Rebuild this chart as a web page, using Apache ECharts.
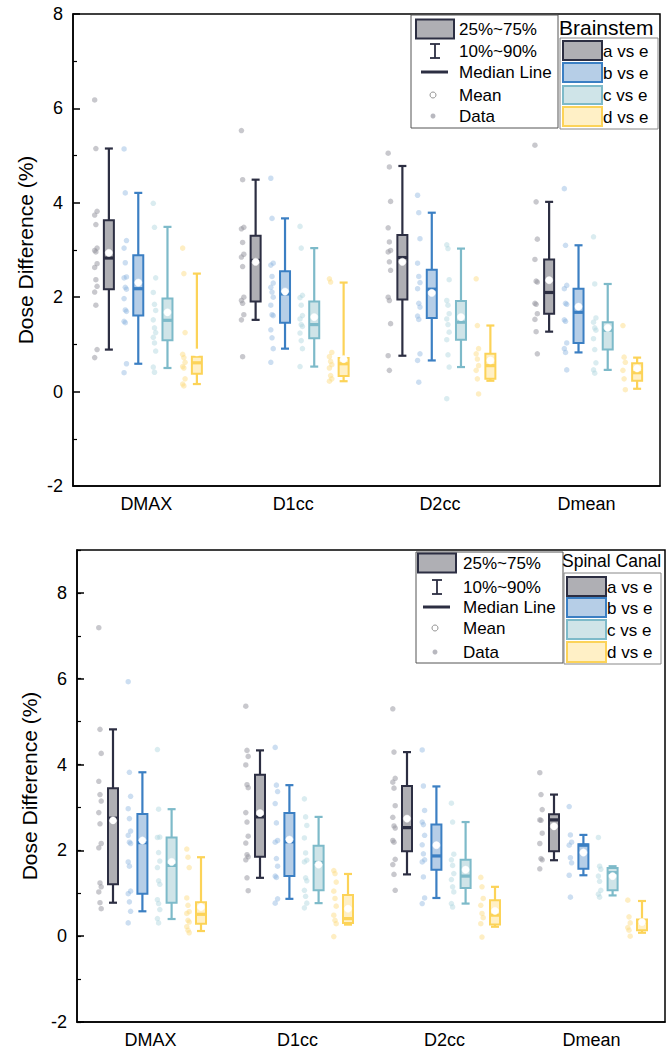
<!DOCTYPE html>
<html>
<head>
<meta charset="utf-8">
<script src="https://cdn.jsdelivr.net/npm/echarts@6/dist/echarts.min.js"></script>
<style>html,body{margin:0;padding:0;background:#fff}#c{width:672px;height:1052px}</style>
</head>
<body>
<div id="c"></div>
<script>
// ---------- data ----------
const categories = ['DMAX', 'D1cc', 'D2cc', 'Dmean'];
const groups = ['a vs e', 'b vs e', 'c vs e', 'd vs e'];
const panelTitles = ['Brainstem', 'Spinal Canal'];
const legendLabels = ['25%~75%', '10%~90%', 'Median Line', 'Mean', 'Data'];
const axisTitle = 'Dose Difference (%)';

// box statistics per category: [p10, p25, median, p75, p90, mean]
const bsBoxA = [[0.89,2.17,2.83,3.63,5.15,2.94],[1.52,1.91,2.78,3.30,4.49,2.75],[0.76,1.95,2.84,3.32,4.78,2.75],[1.27,1.65,2.10,2.80,4.02,2.36]];
const bsBoxB = [[0.59,1.61,2.18,2.89,4.21,2.31],[0.91,1.46,2.07,2.55,3.67,2.12],[0.66,1.56,2.17,2.58,3.79,2.09],[0.83,1.03,1.68,2.18,3.10,1.80]];
const bsBoxC = [[0.50,1.09,1.51,1.97,3.49,1.68],[0.53,1.13,1.42,1.91,3.04,1.58],[0.52,1.10,1.47,1.92,3.03,1.58],[0.46,0.89,1.30,1.47,2.28,1.35]];
const bsBoxD = [[0.16,0.38,0.61,0.74,2.50,0.83],[0.22,0.33,0.59,0.71,2.31,0.69],[0.23,0.27,0.55,0.80,1.40,0.66],[0.06,0.23,0.40,0.60,0.72,0.49]];

const bsPtsA = [[6.18,5.15,3.82,3.74,3.54,3.04,2.99,2.96,2.71,2.63,2.37,2.23,2.11,1.83,0.89,0.72],
                [5.53,4.49,3.48,3.45,3.16,2.91,2.85,2.65,2.00,1.93,1.87,1.63,1.52,0.74],
                [5.05,4.76,4.03,3.47,3.17,2.99,2.96,2.75,2.57,2.00,1.93,1.44,0.76,0.45],
                [5.22,4.02,3.23,2.80,2.34,2.32,1.87,1.85,1.65,1.53,1.27,0.80]];
const bsPtsB = [[5.14,4.21,3.20,3.04,2.73,2.43,2.41,2.21,2.17,1.97,1.73,1.70,1.49,1.46,0.59,0.40],
                [4.52,3.67,2.72,2.68,2.44,2.30,2.21,2.11,2.00,1.83,1.63,1.61,1.31,1.14,0.91,0.62],
                [4.16,3.79,3.24,2.72,2.44,2.31,2.18,1.87,1.79,1.60,1.53,0.80,0.66,0.20],
                [4.30,3.10,2.25,2.18,1.87,1.85,1.52,1.49,1.03,0.91,0.83,0.46]];
const bsPtsC = [[3.99,3.48,2.41,2.10,1.85,1.72,1.52,1.35,1.25,1.15,1.03,0.86,0.52,0.41],
                [3.50,3.04,2.04,1.99,1.83,1.61,1.54,1.42,1.38,1.24,1.08,0.91,0.53],
                [3.11,3.03,2.37,1.93,1.83,1.65,1.54,1.42,1.26,1.10,0.78,0.52,-0.15],
                [3.28,2.28,1.56,1.47,1.35,1.30,1.12,0.89,0.61,0.46,0.39]];
const bsPtsD = [[3.04,2.50,1.25,0.79,0.72,0.62,0.53,0.50,0.27,0.16,0.12],
                [2.39,2.32,0.83,0.74,0.64,0.57,0.50,0.34,0.27,0.22],
                [2.39,1.40,0.91,0.80,0.69,0.55,0.45,0.27,-0.05],
                [1.40,0.73,0.62,0.45,0.27,0.04]];

const scBoxA = [[0.78,1.21,2.75,3.45,4.82,2.70],[1.36,1.85,2.78,3.76,4.33,2.87],[1.44,1.98,2.53,3.50,4.29,2.74],[1.77,1.98,2.71,2.84,3.30,2.56]];
const scBoxB = [[0.58,0.99,2.18,2.85,3.82,2.23],[0.87,1.40,2.20,2.87,3.52,2.25],[0.89,1.55,1.87,2.60,3.49,2.12],[1.42,1.57,2.12,2.14,2.36,1.95]];
const scBoxC = [[0.40,0.78,1.65,2.30,2.96,1.73],[0.77,1.07,1.72,2.11,2.78,1.67],[0.76,1.12,1.40,1.78,2.66,1.55],[0.95,1.07,1.48,1.59,1.63,1.40]];
const scBoxD = [[0.12,0.29,0.51,0.79,1.84,0.68],[0.27,0.31,0.41,0.96,1.45,0.64],[0.22,0.27,0.49,0.84,1.15,0.59],[0.08,0.14,0.33,0.39,0.82,0.33]];

const scPtsA = [[7.19,4.82,4.26,3.61,3.30,3.15,2.88,2.62,2.16,2.06,1.24,1.15,1.03,0.78,0.64],
                [5.36,4.33,4.19,3.99,3.53,3.46,2.88,2.66,2.33,2.17,1.90,1.85,1.78,1.36,1.06],
                [5.30,4.29,3.68,3.59,3.45,3.04,2.77,2.57,2.52,2.23,2.19,1.79,1.67,1.44,1.07],
                [3.81,3.30,2.95,2.71,2.70,2.40,2.16,1.81,1.78,1.57]];
const scPtsB = [[5.93,3.82,3.26,2.97,2.74,2.45,2.35,2.19,2.16,1.73,1.63,1.05,0.99,0.80,0.58,0.31],
                [4.40,3.52,3.37,3.09,2.64,2.23,2.19,1.81,1.63,1.40,1.37,0.87,0.77],
                [4.34,3.50,2.93,2.66,2.60,2.35,2.13,1.92,1.78,1.73,1.38,0.89,0.76],
                [3.02,2.36,2.19,2.12,1.83,1.71,1.42,0.91]];
const scPtsC = [[4.35,2.96,2.31,2.30,1.95,1.75,1.60,1.29,1.21,0.85,0.76,0.62,0.41,0.31],
                [3.20,2.78,2.58,2.29,1.94,1.77,1.73,1.36,1.29,1.07,0.93,0.77,0.66],
                [3.10,2.66,1.91,1.78,1.65,1.46,1.32,1.15,1.03,0.76,0.68],
                [2.30,1.63,1.56,1.40,1.28,1.07,0.98,0.91]];
const scPtsD = [[2.03,1.84,1.60,0.89,0.72,0.57,0.53,0.37,0.33,0.22,0.14,0.08],
                [1.53,1.46,1.26,1.05,0.88,0.70,0.49,0.37,0.29,-0.01],
                [1.37,1.15,0.88,0.72,0.53,0.43,0.29,-0.02],
                [0.84,0.45,0.31,0.20,0.14,0.00]];

const topTicks = {min: -2, max: 8, interval: 2};
const bottomTicks = {min: -2, max: 9, interval: 2};

// ---------- style ----------
const FONT = 'Liberation Sans';
const strokes = ['#2c2e42', '#3b7fc3', '#7dbac9', '#fcd358'];
const fills = ['#afafb4', '#b6cee7', '#cfe4e8', '#fff0c6'];
const ptColors = ['rgba(150,150,160,0.65)', 'rgba(140,180,222,0.55)', 'rgba(170,212,220,0.55)', 'rgba(253,220,130,0.6)'];
const slotOffsets = [-44, -14.6, 14.6, 44];
const ptShift = -6.5, boxShift = 6.5;

const panels = [
  {boxes: [bsBoxA, bsBoxB, bsBoxC, bsBoxD], pts: [bsPtsA, bsPtsB, bsPtsC, bsPtsD]},
  {boxes: [scBoxA, scBoxB, scBoxC, scBoxD], pts: [scPtsA, scPtsB, scPtsC, scPtsD]}
];

function boxRenderer(offset, stroke, fill) {
  return function (params, api) {
    const cat = api.value(0);
    const x = api.coord([cat, 0])[0] + offset;
    const Y = v => api.coord([cat, v])[1];
    const p10 = Y(api.value(1)), p25 = Y(api.value(2)), med = Y(api.value(3)),
          p75 = Y(api.value(4)), p90 = Y(api.value(5)), mean = Y(api.value(6));
    const hw = 5, cw = 4;
    const ls = {stroke: stroke, lineWidth: 2.2};
    return {type: 'group', children: [
      {type: 'line', shape: {x1: x, y1: p90, x2: x, y2: p75}, style: ls},
      {type: 'line', shape: {x1: x, y1: p25, x2: x, y2: p10}, style: ls},
      {type: 'line', shape: {x1: x - cw, y1: p90, x2: x + cw, y2: p90}, style: ls},
      {type: 'line', shape: {x1: x - cw, y1: p10, x2: x + cw, y2: p10}, style: ls},
      {type: 'rect', shape: {x: x - hw, y: p75, width: hw * 2, height: p25 - p75}, style: {fill: fill, stroke: stroke, lineWidth: 2}},
      {type: 'line', shape: {x1: x - hw, y1: med, x2: x + hw, y2: med}, style: {stroke: stroke, lineWidth: 3.2}},
      {type: 'circle', shape: {cx: x, cy: mean, r: 3.6}, style: {fill: '#ffffff', stroke: 'rgba(255,255,255,0.9)', lineWidth: 0.5}}
    ]};
  };
}

const series = [];
panels.forEach((p, pi) => {
  for (let g = 0; g < 4; g++) {
    const ptsData = [];
    p.pts[g].forEach((vals, ci) => {
      vals.forEach((v, j) => {
        const jit = ((j % 3) - 1) * 1.2;
        ptsData.push({value: [ci, v], symbolOffset: [slotOffsets[g] + ptShift + jit, 0]});
      });
    });
    series.push({
      type: 'scatter', name: groups[g], xAxisIndex: pi, yAxisIndex: pi === 0 ? 0 : 1,
      symbol: 'circle', symbolSize: 5.5, data: ptsData,
      itemStyle: {color: ptColors[g]}, silent: true, z: 2
    });
    series.push({
      type: 'custom', name: groups[g] + ' box', xAxisIndex: pi, yAxisIndex: pi === 0 ? 0 : 1,
      renderItem: boxRenderer(slotOffsets[g] + boxShift, strokes[g], fills[g]),
      data: p.boxes[g].map((b, ci) => [ci].concat(b)),
      encode: {x: 0, y: [1, 2, 3, 4, 5]}, silent: true, z: 3
    });
  }
});

const axisLineStyle = {color: '#000', width: 1.5};
function xAx(gi) {
  return {type: 'category', gridIndex: gi, data: categories, boundaryGap: true,
    axisLine: {onZero: false, lineStyle: axisLineStyle}, axisTick: {show: false},
    axisLabel: {fontFamily: FONT, fontSize: 18, color: '#000', margin: 9},
    splitLine: {show: false}};
}
function yAx(gi, t, gap, opts) {
  return Object.assign({type: 'value', gridIndex: gi, min: t.min, max: t.max, interval: t.interval,
    name: axisTitle, nameLocation: 'middle', nameGap: gap,
    nameTextStyle: {fontFamily: FONT, fontSize: 21, color: '#000'},
    axisLine: {show: true, onZero: false, lineStyle: axisLineStyle},
    axisTick: {show: true, inside: true, length: 7, lineStyle: {color: '#000', width: 1.5}},
    minorTick: {show: true, splitNumber: 2, length: 4, lineStyle: {color: '#000', width: 1.2}},
    axisLabel: {fontFamily: FONT, fontSize: 18, color: '#000', margin: 10},
    splitLine: {show: false}, minorSplitLine: {show: false}}, opts || {});
}

const yAxes = [
  yAx(0, topTicks, 30),
  yAx(1, bottomTicks, 33, {minorTick: {show: false}, axisLabel: {fontFamily: FONT, fontSize: 18, color: '#000', margin: 10, showMaxLabel: false}}),
  // minor ticks for lower panel (odd values)
  {type: 'value', gridIndex: 1, position: 'left', offset: 0, min: bottomTicks.min, max: bottomTicks.max, interval: 1,
   axisLine: {show: false, onZero: false}, axisLabel: {show: false}, splitLine: {show: false},
   axisTick: {show: true, inside: true, length: 4, lineStyle: {color: '#000', width: 1.2}}}
];

// ---------- legend (decoration) ----------
function legend(L) {
  const els = [];
  const tf = (txt, x, y, size) => ({type: 'text', x: x, y: y, z: 20,
    style: {text: txt, fontFamily: FONT, fontSize: size, fill: '#000', verticalAlign: 'middle', align: 'left'}});
  els.push({type: 'rect', z: 15, shape: {x: L.b1[0], y: L.b1[1], width: L.b1[2], height: L.b1[3]}, style: {fill: '#fff', stroke: '#555', lineWidth: 1}});
  els.push({type: 'rect', z: 15, shape: {x: L.b2[0], y: L.b2[1], width: L.b2[2], height: L.b2[3]}, style: {fill: '#fff', stroke: '#888', lineWidth: 1}});
  const r = L.rows, sx = L.symX;
  els.push({type: 'rect', z: 16, shape: {x: sx - 19, y: r[0] - 9.5, width: 38, height: 19}, style: {fill: fills[0], stroke: strokes[0], lineWidth: 2}});
  els.push({type: 'line', z: 16, shape: {x1: sx, y1: r[1] - 7, x2: sx, y2: r[1] + 7}, style: {stroke: strokes[0], lineWidth: 1.8}});
  els.push({type: 'line', z: 16, shape: {x1: sx - 5, y1: r[1] - 7, x2: sx + 5, y2: r[1] - 7}, style: {stroke: strokes[0], lineWidth: 1.8}});
  els.push({type: 'line', z: 16, shape: {x1: sx - 5, y1: r[1] + 7, x2: sx + 5, y2: r[1] + 7}, style: {stroke: strokes[0], lineWidth: 1.8}});
  els.push({type: 'line', z: 16, shape: {x1: sx - 14, y1: r[2], x2: sx + 13, y2: r[2]}, style: {stroke: strokes[0], lineWidth: 3}});
  els.push({type: 'circle', z: 16, shape: {cx: sx - 2, cy: r[3], r: 3}, style: {fill: '#fff', stroke: '#777', lineWidth: 0.8}});
  els.push({type: 'circle', z: 16, shape: {cx: sx - 2, cy: r[4], r: 2.5}, style: {fill: '#b8b8bf'}});
  legendLabels.forEach((t, i) => els.push(tf(t, L.txtX, r[i], 17)));
  els.push(tf(L.title, L.titleX, L.titleY, L.titleSize));
  L.grows.forEach((yy, g) => {
    els.push({type: 'rect', z: 16, shape: {x: L.gx, y: yy[0], width: 39, height: yy[1] - yy[0]}, style: {fill: fills[g], stroke: strokes[g], lineWidth: 2}});
    els.push(tf(groups[g], L.gx + 40, (yy[0] + yy[1]) / 2 + 0.5, 17));
  });
  return els;
}

const graphics = [].concat(
  legend({b1: [411, 15, 147, 113], b2: [560, 38, 98, 91], rows: [29, 51, 72, 95, 116], symX: 435, txtX: 459,
          title: panelTitles[0], titleX: 559, titleY: 27, titleSize: 21,
          grows: [[41, 60], [63, 82], [86, 104], [107, 126]], gx: 563}),
  legend({b1: [416, 552, 147, 111], b2: [564, 573, 97, 91], rows: [563, 587, 607, 628, 652], symX: 437, txtX: 463,
          title: panelTitles[1], titleX: 562, titleY: 561, titleSize: 17.5,
          grows: [[577, 596], [598, 617], [620, 639], [642, 662]], gx: 567})
);

const option = {
  animation: false,
  backgroundColor: '#fff',
  grid: [
    {left: 73, top: 14, width: 587, height: 472, show: true, borderColor: '#000', borderWidth: 1.5, backgroundColor: 'transparent'},
    {left: 77, top: 550, width: 588, height: 472, show: true, borderColor: '#000', borderWidth: 1.5, backgroundColor: 'transparent'}
  ],
  xAxis: [xAx(0), xAx(1)],
  yAxis: yAxes,
  series: series,
  graphic: graphics
};

const chart = echarts.init(document.getElementById('c'), null, {renderer: 'svg', width: 672, height: 1052});
chart.setOption(option);
</script>
</body>
</html>
